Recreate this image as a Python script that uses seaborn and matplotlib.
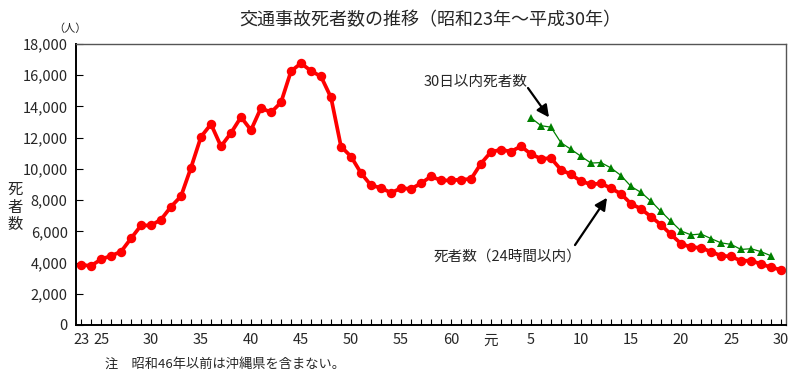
import matplotlib
matplotlib.use("Agg")
import matplotlib.pyplot as plt
import seaborn as sns
import pandas as pd
import numpy as np

# Years: Showa 23 (1948) .. Heisei 30 (2018)
years = list(range(1948, 2019))
deaths_24h = [3848, 3790, 4202, 4429, 4696, 5544, 6374, 6379, 6751, 7575,
              8248, 10079, 12055, 12865, 11445, 12301, 13318, 12484, 13904, 13618,
              14256, 16257, 16765, 16278, 15918, 14574, 11432, 10792, 9734, 8945,
              8783, 8466, 8760, 8719, 9073, 9520, 9262, 9261, 9317, 9347,
              10344, 11086, 11227, 11109, 11452, 10942, 10649, 10684, 9942, 9640,
              9211, 9006, 9073, 8757, 8396, 7768, 7436, 6937, 6415, 5796,
              5209, 4979, 4948, 4691, 4438, 4388, 4113, 4117, 3904, 3694, 3532]
years_30d = list(range(1993, 2018))
deaths_30d = [13269, 12768, 12670, 11674, 11254, 10805, 10372, 10403, 10060, 9575,
              8877, 8492, 7931, 7272, 6639, 6023, 5772, 5828, 5535, 5261,
              5165, 4838, 4885, 4698, 4431]
tick_years = [1948, 1950, 1955, 1960, 1965, 1970, 1975, 1980, 1985, 1989,
              1993, 1998, 2003, 2008, 2013, 2018]
tick_labels = ["23", "25", "30", "35", "40", "45", "50", "55", "60", "元",
               "5", "10", "15", "20", "25", "30"]
y_ticks = list(range(0, 18001, 2000))

sns.set_theme(style="white")
plt.rcParams['font.family'] = ['Noto Sans CJK JP', 'DejaVu Sans']

df24 = pd.DataFrame({"year": years, "deaths": deaths_24h})
df30 = pd.DataFrame({"year": years_30d, "deaths": deaths_30d})

fig = plt.figure(figsize=(8, 3.77), dpi=100)
ax = fig.add_axes([0.095, 0.138, 0.8875, 0.7453])

sns.lineplot(data=df30, x="year", y="deaths", ax=ax, color="#008000",
             linewidth=0.9, marker="^", markersize=5.5, markeredgewidth=0,
             markerfacecolor="#008000")
sns.lineplot(data=df24, x="year", y="deaths", ax=ax, color="#ff0000",
             linewidth=2.7, marker="o", markersize=6.8, markeredgewidth=0,
             markerfacecolor="#ff0000")

ax.set_xlim(1947.5, 2018.5)
ax.set_ylim(0, 18000)
ax.set_xticks(tick_years)
ax.set_xticklabels(tick_labels, fontsize=10.5)
ax.set_xticks(years, minor=True)
ax.set_yticks(y_ticks)
ax.set_yticklabels([f"{v:,}" for v in y_ticks], fontsize=10.5)
ax.tick_params(axis="x", which="both", direction="in", length=4, width=0.8,
               color="black", pad=6, bottom=True)
ax.tick_params(axis="y", direction="in", length=5, width=0.8, color="black",
               pad=6, left=True)
ax.set_xlabel("")
ax.set_ylabel("")
for side in ["left", "bottom"]:
    ax.spines[side].set_color("black")
    ax.spines[side].set_linewidth(1.4)
for side in ["top", "right"]:
    ax.spines[side].set_color("#555555")
    ax.spines[side].set_linewidth(1.0)

fig.text(0.538, 0.947, "交通事故死者数の推移（昭和23年～平成30年）",
         ha="center", va="center", fontsize=13)
fig.text(0.088, 0.925, "（人）", ha="center", va="center", fontsize=8)
fig.text(0.019, 0.45, "死\n者\n数", ha="center", va="center", fontsize=11,
         linespacing=1.05)
fig.text(0.131, 0.035, "注　昭和46年以前は沖縄県を含まない。", ha="left",
         va="center", fontsize=9.5)

arrow = dict(arrowstyle="-|>,head_length=0.6,head_width=0.3",
             color="black", lw=1.6, shrinkA=0, shrinkB=0)
ax.text(1987.5, 15560, "30日以内死者数", ha="center", va="center", fontsize=10.5)
ax.annotate("", xy=(1994.8, 13300), xytext=(1992.7, 15180), arrowprops=arrow)
ax.text(1990.7, 4350, "死者数（24時間以内）", ha="center", va="center", fontsize=10.5)
ax.annotate("", xy=(2000.6, 8150), xytext=(1997.4, 5120), arrowprops=arrow)

fig.savefig("out.png", dpi=100)
